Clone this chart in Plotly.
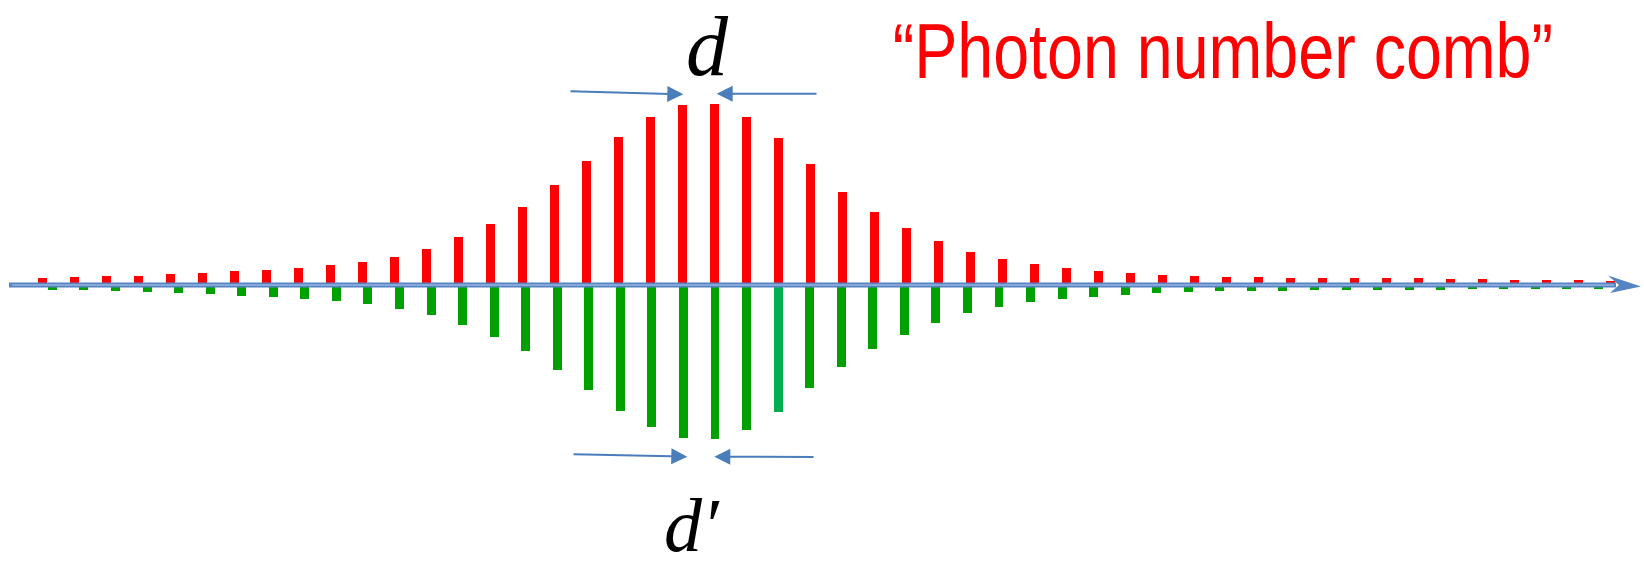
import plotly.graph_objects as go

# photon number index shared by both combs
photon_n = list(range(50))

# tooth heights of the upper (red) comb
red_amp = [6.7, 7.7, 8.7, 9.3, 10.7, 12.0, 13.7, 15.3, 17.3, 19.7,
           23.3, 28.3, 36.3, 47.7, 61.0, 78.0, 100.0, 124.3, 148.3, 167.7,
           180.0, 181.0, 168.3, 146.7, 121.3, 93.0, 72.7, 57.3, 44.3, 33.3,
           25.7, 21.0, 17.0, 14.0, 11.7, 10.0, 8.7, 7.7, 7.7, 7.0,
           7.0, 6.7, 6.7, 6.7, 6.0, 5.7, 5.0, 4.7, 4.7, 4.3]

# tooth heights of the lower (green) comb, drawn downward
green_amp = [5.0, 5.3, 6.3, 7.3, 8.3, 9.3, 10.7, 12.3, 13.7, 16.0,
             19.0, 23.7, 30.3, 40.0, 51.7, 66.0, 85.0, 105.0, 126.0, 142.3,
             153.3, 154.0, 145.0, 126.7, 103.3, 82.3, 64.0, 50.0, 38.3, 28.3,
             21.7, 17.3, 14.0, 11.7, 9.7, 8.3, 7.0, 6.2, 6.0, 5.7,
             5.3, 5.3, 5.3, 4.7, 4.7, 4.3, 4.0, 3.7, 3.7, 3.7]

# tooth spacings: d for the red comb, d' for the green comb (in units of d)
d_red = 1.0
d_green = 0.986
green_start = 0.31

W, H = 1644, 570

red_x = [k * d_red for k in photon_n]
green_x = [green_start + k * d_green for k in photon_n]
green_colors = ["#00B050" if k == 23 else "#00A000" for k in photon_n]


def px(x):
    """canvas pixel column -> paper x"""
    return x / W


def py(y):
    """canvas pixel row -> paper y"""
    return 1 - y / H


fig = go.Figure()
fig.add_trace(go.Bar(x=red_x, y=red_amp, width=0.28,
                     marker=dict(color="#FF0000", line=dict(width=0)),
                     showlegend=False, hoverinfo="skip"))
fig.add_trace(go.Bar(x=green_x, y=[-v for v in green_amp], width=0.28,
                     marker=dict(color=green_colors, line=dict(width=0)),
                     showlegend=False, hoverinfo="skip"))

blue = "#4A7EBB"

# horizontal axis: double-stroked blue line with a barbed head
fig.add_shape(type="line", xref="paper", yref="y", x0=px(9), x1=px(1616),
              y0=0, y1=0, line=dict(color="#5584C4", width=5))
fig.add_shape(type="line", xref="paper", yref="y", x0=px(12), x1=px(1614),
              y0=0, y1=0, line=dict(color="#B9CCEA", width=1.2))
fig.add_shape(type="path", xref="paper", yref="paper", fillcolor="#5584C4",
              line=dict(width=0),
              path=(f"M {px(1608)},{py(275.5)} L {px(1641)},{py(286.5)} "
                    f"L {px(1610)},{py(293)} L {px(1619)},{py(285)} Z"))

# spacing arrows (tip, tail)
arrows = [((683.3, 94.3), (569, 91.3)),
          ((716.7, 93.7), (818, 93.7)),
          ((687.3, 456.7), (572, 454.3)),
          ((714.3, 456.7), (815, 457.0))]
for (tx, ty), (sx, sy) in arrows:
    fig.add_annotation(x=px(tx), y=py(ty), xref="paper", yref="paper",
                       ax=sx - tx, ay=sy - ty, axref="pixel", ayref="pixel",
                       text="", showarrow=True, arrowhead=2, arrowsize=1.6,
                       arrowwidth=2, arrowcolor=blue, standoff=0, startstandoff=0)

serif = "Liberation Serif, Times New Roman, serif"
fig.add_annotation(x=px(707), y=py(46), xref="paper", yref="paper",
                   text="<i>d</i>", showarrow=False,
                   font=dict(family=serif, size=84, color="black"),
                   xanchor="center", yanchor="middle")
fig.add_annotation(x=px(692), y=py(569), xref="paper", yref="paper",
                   text="<i>d\u2032</i>", showarrow=False,
                   font=dict(family=serif, size=76, color="black"),
                   xanchor="center", yanchor="bottom")
fig.add_annotation(x=px(1223), y=py(51), xref="paper", yref="paper",
                   text="\u201cPhoton number comb\u201d", showarrow=False,
                   font=dict(family="Liberation Sans, Arial, sans-serif",
                             size=78, color="#FF0000"),
                   xanchor="center", yanchor="middle")

fig.update_layout(
    width=W, height=H,
    margin=dict(l=0, r=0, t=0, b=0),
    paper_bgcolor="white", plot_bgcolor="white",
    barmode="overlay", bargap=0,
    xaxis=dict(range=[-1.328, 50.047], visible=False, fixedrange=True),
    yaxis=dict(range=[-285, 285], visible=False, fixedrange=True),
)

# the comb caption is set in a condensed width
condense_caption = """
var gd = document.getElementById('{plot_id}');
gd.querySelectorAll('text.annotation-text').forEach(function (t) {
  if (t.textContent.indexOf('Photon') >= 0) {
    t.style.transformBox = 'fill-box';
    t.style.transformOrigin = 'center';
    t.style.transform = 'scaleX(0.828)';
  }
});
"""

fig.write_html("out.html", post_script=condense_caption)
